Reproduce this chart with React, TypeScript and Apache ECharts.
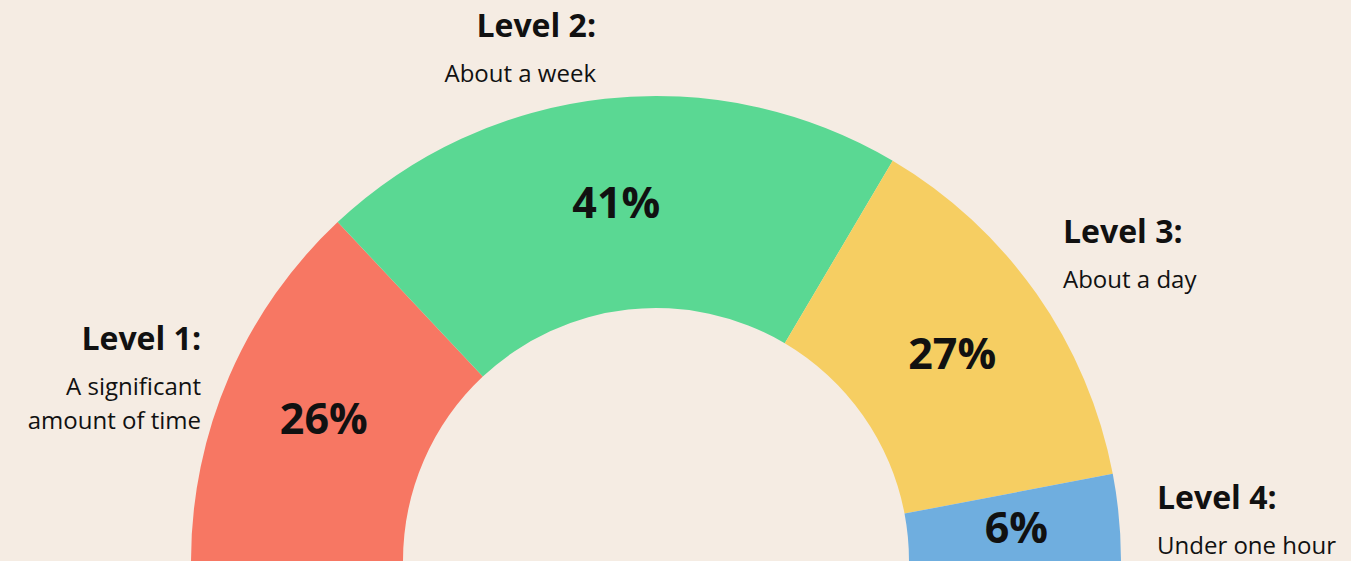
import React, { useEffect, useRef } from "react";
import * as echarts from "echarts";

const levels = ["Level 1:", "Level 2:", "Level 3:", "Level 4:"];
const descriptions = [["A significant", "amount of time"], ["About a week"], ["About a day"], ["Under one hour"]];
const shares = [26, 41, 27, 6];
const colors = ["#F77763", "#5AD893", "#F6CE62", "#6FAEDF"];

const FONT = "'Open Sans', Lato, sans-serif";

// outer label anchors: [x, titleY, align]
const anchors: [number, number, "left" | "right"][] = [
  [201, 337, "right"],
  [596, 24, "right"],
  [1063, 230, "left"],
  [1157, 496, "left"],
];

export default function App() {
  const ref = useRef<HTMLDivElement>(null);
  useEffect(() => {
    if (!ref.current) return;
    const chart = echarts.init(ref.current, undefined, { renderer: "svg" });
    const total = shares.reduce((a, b) => a + b, 0);
    const graphics: any[] = [];
    levels.forEach((t, i) => {
      const [x, y, align] = anchors[i];
      graphics.push({
        type: "text",
        x,
        y,
        style: {
          text: t,
          fontFamily: FONT,
          fontWeight: "bold",
          fontSize: 32,
          fill: "#111",
          align,
          verticalAlign: "middle",
        },
      });
      descriptions[i].forEach((d, j) => {
        graphics.push({
          type: "text",
          x,
          y: y + 48 + j * 34,
          style: {
            text: d,
            fontFamily: FONT,
            fontSize: 24,
            fill: "#111",
            align,
            verticalAlign: "middle",
          },
        });
      });
    });
    chart.setOption({
      animation: false,
      backgroundColor: "#F5ECE3",
      graphic: graphics,
      series: [
        {
          type: "pie",
          center: [656, 561],
          radius: [253, 465],
          startAngle: 180,
          clockwise: true,
          avoidLabelOverlap: false,
          silent: true,
          label: {
            show: true,
            position: "inside",
            formatter: "{c}%",
            fontFamily: FONT,
            fontWeight: "bold",
            fontSize: 43,
            color: "#111",
          },
          labelLine: { show: false },
          data: [
            ...shares.map((v, i) => ({ value: v, name: levels[i], itemStyle: { color: colors[i] } })),
            { value: total, name: "hidden", itemStyle: { color: "none" }, label: { show: false } },
          ],
        },
      ],
    });
    return () => chart.dispose();
  }, []);
  return <div ref={ref} style={{ position: "absolute", left: 0, top: 0, width: 1351, height: 561 }} />;
}
